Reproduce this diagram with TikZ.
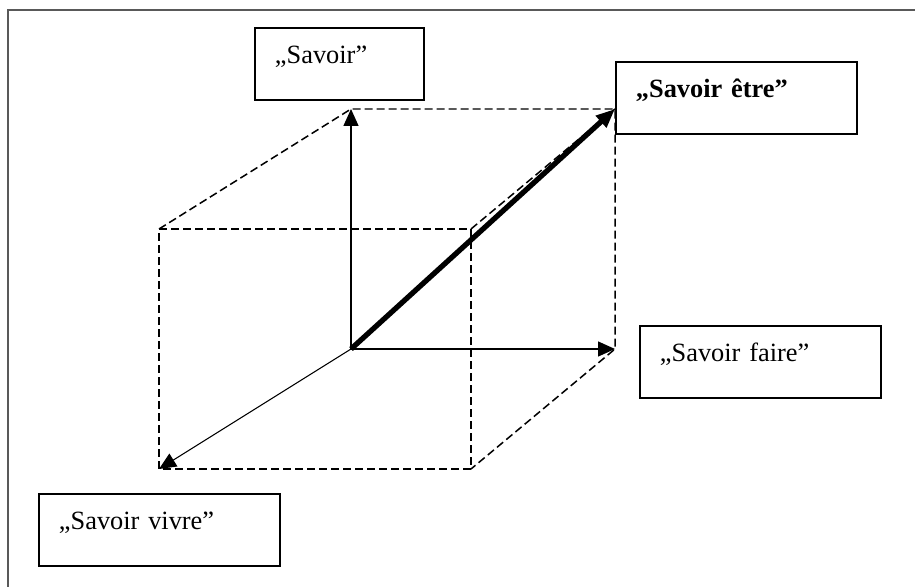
\documentclass[tikz,border=0pt]{standalone}
\usepackage{fontspec}
\setmainfont{Liberation Serif}
\usetikzlibrary{arrows.meta}
\tikzset{
    >={Triangle[length=3.4mm, width=3mm]}, % filled arrow heads
    axis/.style={->, line width=0.8pt}, % thin arrows from the origin
    mainaxis/.style={->, line width=3pt, >={Triangle[length=3.8mm, width=3mm]}}, % the bold arrow
    cubeline/.style={line width=0.85pt, dash pattern=on 1.6mm off 0.8mm}, % dashed edges of the box
    labelbox/.style={draw, line width=1.1pt, anchor=north west, align=left,
        inner xsep=4mm, inner ysep=0pt, text height=7.2mm, text depth=7.2mm,
        font=\fontsize{15}{16}\selectfont}, % text boxes, text sits near the top
}
\begin{document}
\begin{tikzpicture}[x=0.2mm, y=-0.2mm]
    \useasboundingbox (0,0) rectangle (915,587);
    % open frame: only top and left edges are visible
    \coordinate (frameL) at (8,587);
    \coordinate (frameC) at (8,10);
    \coordinate (frameR) at (915,10);
    \draw[gray!70!black, line width=0.3mm] (frameL) -- (frameC) -- (frameR);

    % corners of the cube
    \coordinate (o) at (351,349);
    \coordinate (bTL) at (351,109);
    \coordinate (bTR) at (615,109);
    \coordinate (bBR) at (615,349);
    \coordinate (fTL) at (159,229);
    \coordinate (fTR) at (471,229);
    \coordinate (fBL) at (159,469);
    \coordinate (fBR) at (471,469);

    % text boxes
    \node[labelbox, text width=129*0.2mm] (savoir) at (254,27) {„Savoir”};
    \node[labelbox, text width=201*0.2mm] (etre) at (615,61) {\textbf{„Savoir être”}};
    \node[labelbox, text width=201*0.2mm] (faire) at (639,325) {„Savoir faire”};
    \node[labelbox, text width=201*0.2mm] (vivre) at (38,493) {„Savoir vivre”};

    % dashed edges
    \draw[cubeline] (fTL) -- (fTR) -- (fBR) -- (fBL) -- cycle;
    \draw[cubeline] (fTL) -- (bTL) -- (bTR) -- (bBR) -- (fBR);
    \draw[cubeline] (fTR) -- (bTR);

    % arrows
    \draw[axis] (o) -- (bTL);
    \draw[axis] (o) -- (bBR);
    \draw[axis, line width=0.6pt] (o) -- (fBL);
    \draw[mainaxis] (o) -- (bTR);
\end{tikzpicture}
\end{document}
